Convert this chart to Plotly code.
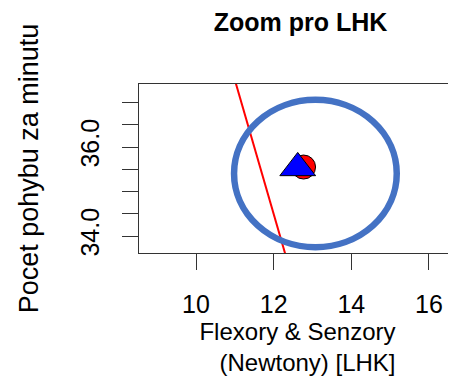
import plotly.graph_objects as go

# ---- data ----
group_names = ["LHK skupina 1", "LHK skupina 2"]
flexory_senzory = [12.77, 12.62]        # x values (Newtony)
pohyby_za_minutu = [35.55, 35.53]       # y values
marker_symbols = ["circle", "triangle-up"]
marker_colors = ["red", "blue"]

# separating line (two points)
line_x = [10.9, 12.45]
line_y = [37.81, 33.14]

# highlight ellipse (data coordinates)
ellipse_x = [10.98, 15.17]
ellipse_y = [33.75, 37.06]

x_ticks = [10, 12, 14, 16]
y_ticks = [34.0, 34.5, 35.0, 35.5, 36.0, 36.5, 37.0]
y_tick_text = ["34.0", "", "", "", "36.0", "", ""]

x_range = [8.532, 16.696]
y_range = [33.618, 37.416]

FONT = "Liberation Sans, Arial, sans-serif"
AX = "#333333"

# page body has an 8px margin, so the figure is sized to the visible area
W, H = 448, 373

fig = go.Figure()

fig.add_trace(go.Scatter(
    x=line_x, y=line_y, mode="lines",
    line=dict(color="red", width=2), showlegend=False, hoverinfo="skip"))

sizes = [24, 31]
for name, xv, yv, sym, col, s in zip(group_names, flexory_senzory, pohyby_za_minutu,
                                      marker_symbols, marker_colors, sizes):
    fig.add_trace(go.Scatter(
        x=[xv], y=[yv], mode="markers", name=name,
        marker=dict(symbol=sym, size=s, color=col, line=dict(color="black", width=1)),
        showlegend=False, cliponaxis=False))

fig.add_shape(type="circle", xref="x", yref="y",
              x0=ellipse_x[0], x1=ellipse_x[1], y0=ellipse_y[0], y1=ellipse_y[1],
              line=dict(color="#4472C4", width=6.5), layer="above")

fig.update_layout(
    width=W, height=H,
    margin=dict(l=131, r=0, t=76, b=128, autoexpand=False),
    paper_bgcolor="white", plot_bgcolor="white",
    font=dict(family=FONT, size=25, color="black"),
    title=dict(text="<b>Zoom pro LHK</b>", x=292.5 / W, xanchor="center", xref="container",
               y=1 - 14 / H, yanchor="middle", yref="container",
               font=dict(family=FONT, size=25, color="black")),
)

fig.update_xaxes(
    range=x_range, tickvals=x_ticks, ticktext=[str(v) for v in x_ticks],
    ticks="outside", ticklen=16, tickwidth=1.3, tickcolor=AX,
    showline=True, linecolor=AX, linewidth=1.3, mirror=True,
    showgrid=False, zeroline=False, automargin=False,
    tickfont=dict(family=FONT, size=25),
    ticklabelstandoff=13,
    title=dict(text="Flexory & Senzory<br>\u00a0\u00a0\u00a0(Newtony) [LHK]",
               font=dict(family=FONT, size=24), standoff=5),
)
fig.update_yaxes(
    range=y_range, tickvals=y_ticks, ticktext=y_tick_text,
    ticks="outside", ticklen=16, tickwidth=1.3, tickcolor=AX,
    showline=True, linecolor=AX, linewidth=1.3, mirror=False,
    showgrid=False, zeroline=False, tickangle=-90, automargin=False,
    tickfont=dict(family=FONT, size=25),
    ticklabelstandoff=13,
    title=dict(text="Pocet pohybu za minutu", font=dict(family=FONT, size=27), standoff=29),
)

fig.write_html("out.html")
